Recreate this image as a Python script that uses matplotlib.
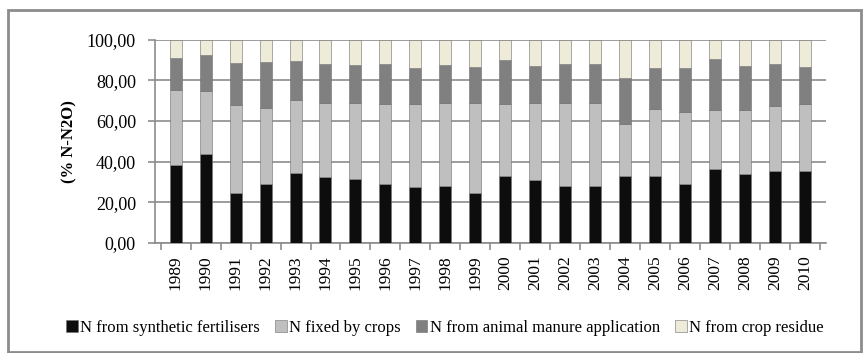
import numpy as np
import matplotlib.pyplot as plt
from matplotlib.patches import Rectangle
from matplotlib.ticker import FuncFormatter, MultipleLocator

years = [str(y) for y in range(1989, 2011)]

# cumulative tops (% of total)
top_synthetic = [38.5, 43.9, 24.4, 28.8, 34.2, 32.5, 31.4, 28.8, 27.5, 28.1, 24.7,
                 32.9, 30.8, 27.8, 28.1, 32.9, 32.9, 28.8, 36.6, 33.7, 35.3, 35.6]
top_fixed = [75.3, 75.0, 67.8, 66.4, 70.2, 69.0, 68.8, 68.3, 68.6, 68.8, 68.8,
             68.6, 69.0, 68.8, 69.0, 58.8, 65.9, 64.7, 65.3, 65.6, 67.3, 68.6]
top_manure = [91.0, 92.4, 88.8, 89.3, 89.5, 88.1, 87.6, 88.1, 86.1, 87.5, 86.8,
              90.0, 87.3, 88.1, 88.1, 81.2, 86.3, 86.3, 90.7, 87.1, 88.0, 86.6]

synthetic = np.array(top_synthetic)
fixed = np.array(top_fixed) - synthetic
manure = np.array(top_manure) - np.array(top_fixed)
residue = 100.0 - np.array(top_manure)

series = [
    ('N from synthetic fertilisers', synthetic, '#0d0d0d'),
    ('N fixed by crops', fixed, '#bfbfbf'),
    ('N from animal manure application', manure, '#808080'),
    ('N from crop residue', residue, '#eeecd9'),
]

plt.rcParams['font.family'] = ['Liberation Serif', 'DejaVu Serif']

fig = plt.figure(figsize=(8.64, 3.53), dpi=100)
ax = fig.add_axes([0.179, 0.312, 0.777, 0.575])

x = np.arange(len(years))
bottom = np.zeros(len(years))
for label, vals, color in series:
    ax.bar(x, vals, bottom=bottom, width=0.4, color=color, edgecolor='#6e6e6e',
           linewidth=0.4, label=label, zorder=3)
    bottom += vals

ax.set_ylim(0, 100)
ax.set_xlim(-0.7, 21.7)
ax.yaxis.set_major_locator(MultipleLocator(20))
ax.yaxis.set_major_formatter(FuncFormatter(lambda v, p: f'{v:.2f}'.replace('.', ',')))
ax.grid(axis='y', color='#8c8c8c', linewidth=1.2, zorder=0)

ax.set_xticks(x)
ax.set_xticklabels(years, rotation=90)
ax.set_xticks(np.arange(-0.5, 22, 1), minor=True)
ax.tick_params(axis='x', which='major', length=0, labelsize=12.5, pad=9)
ax.tick_params(axis='x', which='minor', length=5, color='#8c8c8c', width=1.2)
ax.tick_params(axis='y', length=5, color='#8c8c8c', width=1.2, labelsize=13, pad=8.5)

for side in ['top', 'right']:
    ax.spines[side].set_visible(False)
for side in ['left', 'bottom']:
    ax.spines[side].set_color('#8c8c8c')
    ax.spines[side].set_linewidth(1.2)

ax.set_ylabel('(% N-N2O)', fontsize=12, fontweight='bold', labelpad=7)

fig.legend(loc='center', bbox_to_anchor=(0.515, 0.071), ncol=4, frameon=False,
           fontsize=12, handlelength=0.7, handleheight=0.7, handletextpad=0.15,
           columnspacing=0.9)

fig.patches.append(Rectangle((0.009, 0.003), 0.988, 0.968, transform=fig.transFigure,
                             fill=False, edgecolor='#8c8c8c', linewidth=2))

fig.savefig('out.png', dpi=100)
